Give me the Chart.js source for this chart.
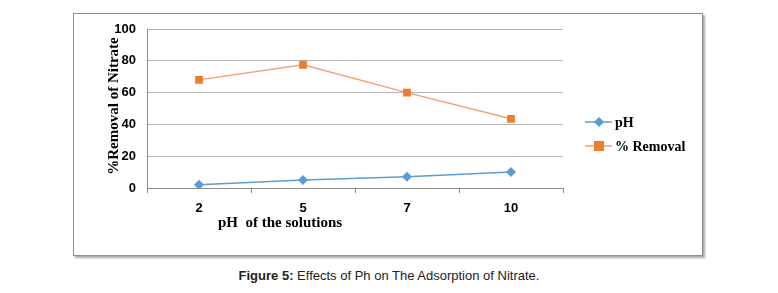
<!DOCTYPE html>
<html>
<head>
<meta charset="utf-8">
<script src="https://cdn.jsdelivr.net/npm/chart.js@4"></script>
<style>
  body { margin: 0; background: #fff; width: 778px; height: 293px; position: relative; overflow: hidden; }
  #frame { position: absolute; left: 73px; top: 13px; width: 628px; height: 241px; border: 1px solid #8c8c8c;
           box-shadow: 2px 2px 2px rgba(0,0,0,0.35); background: #fff; }
  #caption { position: absolute; left: 0; width: 778px; top: 268px; text-align: center;
             font-family: "Liberation Sans", Arial, sans-serif; font-size: 13px; color: #222; }
</style>
</head>
<body>
<div id="frame"><canvas id="c" width="628" height="241"></canvas></div>
<div id="caption"><b>Figure 5:</b> Effects of Ph on The Adsorption of Nitrate.</div>
<script>
const categories = ['2', '5', '7', '10'];
const phValues = [2, 5, 7, 10];
const removalValues = [68, 77.5, 60, 43.5];
const yTicks = [0, 20, 40, 60, 80, 100];

const serif = '"Liberation Serif", "Times New Roman", serif';
const sans = '"Liberation Sans", Arial, sans-serif';

// titles and legend drawn by hand, the excel layout doesn't fit chart.js defaults
const extras = {
    id: 'extras',
    afterDraw(chart) {
        const c = chart.ctx;
        const area = chart.chartArea;
        c.save();
        c.fillStyle = '#000';
        c.font = 'bold 15px ' + serif;
        c.textBaseline = 'middle';
        c.textAlign = 'left';
        c.fillText('pH  of the solutions', area.left + 71, 209);

        c.save();
        c.translate(40, 92);
        c.rotate(-Math.PI / 2);
        c.textAlign = 'center';
        c.fillText('%Removal of Nitrate', 0, 0);
        c.restore();

        c.font = 'bold 14px ' + serif;
        chart.data.datasets.forEach((ds, i) => {
            const y = 108 + i * 24;
            const x0 = 511;
            c.strokeStyle = ds.borderColor;
            c.lineWidth = 1.5;
            c.beginPath();
            c.moveTo(x0, y);
            c.lineTo(x0 + 27, y);
            c.stroke();
            c.fillStyle = ds.backgroundColor;
            c.beginPath();
            if (ds.pointStyle === 'rect') {
                c.rect(x0 + 9, y - 5, 10, 10);
            } else {
                c.moveTo(x0 + 14, y - 5);
                c.lineTo(x0 + 19, y);
                c.lineTo(x0 + 14, y + 5);
                c.lineTo(x0 + 9, y);
                c.closePath();
            }
            c.fill();
            c.fillStyle = '#000';
            c.textAlign = 'left';
            c.fillText(ds.label, x0 + 30, y + 1);
        });
        c.restore();
    }
};

new Chart(document.getElementById('c'), {
    type: 'line',
    data: {
        labels: categories,
        datasets: [
            {
                label: 'pH',
                data: phValues,
                borderColor: '#5B9BD5',
                backgroundColor: '#5B9BD5',
                borderWidth: 1.5,
                pointStyle: 'rectRot',
                pointRadius: 5,
                pointBorderWidth: 0
            },
            {
                label: '% Removal',
                data: removalValues,
                borderColor: '#F4A070',
                backgroundColor: '#ED7D31',
                borderWidth: 1.5,
                pointStyle: 'rect',
                pointRadius: 5.5,
                pointBorderWidth: 0
            }
        ]
    },
    options: {
        responsive: false,
        animation: false,
        layout: { padding: { left: 0, right: 139, top: 15, bottom: 37 } },
        plugins: { legend: { display: false }, tooltip: { enabled: false } },
        scales: {
            x: {
                offset: true,
                grid: { offset: true, drawOnChartArea: false, tickLength: 5, color: '#8c8c8c' },
                border: { color: '#8c8c8c' },
                ticks: { color: '#000', padding: 8, font: { family: sans, size: 13, weight: 'bold' } },
                afterFit(scale) { scale.height = 30; scale.paddingLeft = 0; scale.paddingRight = 0; }
            },
            y: {
                min: 0,
                max: 100,
                afterBuildTicks(scale) { scale.ticks = yTicks.map(v => ({ value: v })); },
                grid: { drawTicks: false, color: '#b4b4b4', lineWidth: 1 },
                border: { color: '#8c8c8c' },
                ticks: { color: '#000', padding: 11, font: { family: sans, size: 13, weight: 'bold' } },
                afterFit(scale) { scale.width = 73; scale.paddingTop = 0; scale.paddingBottom = 0; }
            }
        }
    },
    plugins: [extras]
});
</script>
</body>
</html>
